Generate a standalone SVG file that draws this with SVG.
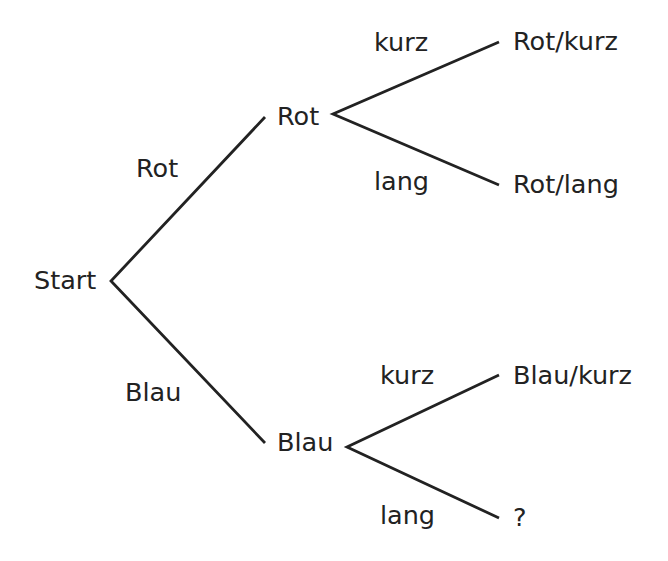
<svg xmlns="http://www.w3.org/2000/svg" width="668" height="561" viewBox="0 0 668 561">
<style>
text{font-family:"DejaVu Sans",sans-serif;font-size:25.5px;fill:#222}
.e{stroke:#222;stroke-width:2.8;fill:none}
</style>
<rect width="668" height="561" fill="#fff"/>
<g id="connectors">
<polyline class="e" points="265,117 111,281 265,443"/>
<polyline class="e" points="499,42 333,114 499,185"/>
<polyline class="e" points="499,375 347,447 499,518"/>
</g>
<g id="edge-labels">
<text x="136" y="177">Rot</text>
<text x="125" y="401">Blau</text>
<text x="374" y="51">kurz</text>
<text x="374" y="190">lang</text>
<text x="380" y="384">kurz</text>
<text x="380" y="524">lang</text>
</g>
<g id="start"><text x="34" y="289">Start</text></g>
<g id="rot"><text x="277" y="125">Rot</text></g>
<g id="blau"><text x="277" y="451">Blau</text></g>
<g id="rot-kurz"><text x="513" y="50">Rot/kurz</text></g>
<g id="rot-lang"><text x="513" y="193">Rot/lang</text></g>
<g id="blau-kurz"><text x="513" y="384">Blau/kurz</text></g>
<g id="unknown"><text x="513" y="526">?</text></g>
</svg>
